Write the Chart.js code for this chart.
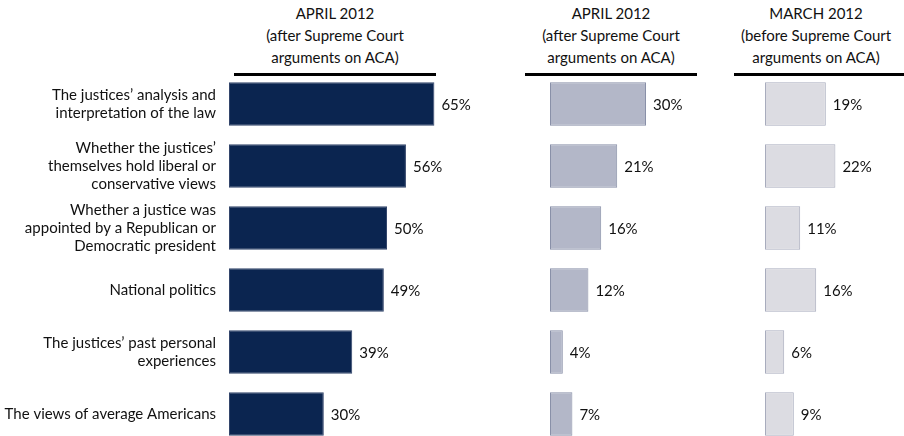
<!DOCTYPE html>
<html>
<head>
<meta charset="utf-8">
<script src="https://cdn.jsdelivr.net/npm/chart.js@4.4.0/dist/chart.umd.min.js"></script>
<style>
  html, body { margin:0; padding:0; background:#fff; overflow:hidden; }
  #wrap { position:relative; width:904px; height:436px; overflow:hidden; font-family: Lato, "Open Sans", sans-serif; }
  .hdr { position:absolute; top:2px; width:200px; text-align:center; font-size:15px; line-height:22px; color:#111; white-space:nowrap; }
  .rule { position:absolute; top:73px; height:3px; background:#000; }
  .box { position:absolute; top:0; height:445px; }
</style>
</head>
<body>
<div id="wrap">
  <div class="hdr" id="h1" style="left:235px"></div>
  <div class="hdr" id="h2" style="left:511px"></div>
  <div class="hdr" id="h3" style="left:716px"></div>
  <div class="rule" style="left:234px;width:202px"></div>
  <div class="rule" style="left:525px;width:172px"></div>
  <div class="rule" style="left:734px;width:170px"></div>
  <div class="box" style="left:0;width:476px"><canvas id="c1"></canvas></div>
  <div class="box" style="left:550px;width:180px"><canvas id="c2"></canvas></div>
  <div class="box" style="left:765px;width:139px"><canvas id="c3"></canvas></div>
</div>
<script>
const categories = [
  ["The justices\u2019 analysis and", "interpretation of the law"],
  ["Whether the justices\u2019", "themselves hold liberal or", "conservative views"],
  ["Whether a justice was", "appointed by a Republican or", "Democratic president"],
  ["National politics"],
  ["The justices\u2019 past personal", "experiences"],
  ["The views of average Americans"]
];
const april2012Total = [65, 56, 50, 49, 39, 30];
const april2012Mostly = [30, 21, 16, 12, 4, 7];
const march2012Mostly = [19, 22, 11, 16, 6, 9];
const panelTitles = [
  ["APRIL 2012", "(after Supreme Court", "arguments on ACA)"],
  ["APRIL 2012", "(after Supreme Court", "arguments on ACA)"],
  ["MARCH 2012", "(before Supreme Court", "arguments on ACA)"]
];

["h1","h2","h3"].forEach((id, i) => {
  document.getElementById(id).innerHTML = panelTitles[i].join("<br>");
});

const FONT = "Lato, 'Open Sans', sans-serif";

const valueLabels = {
  id: "valueLabels",
  afterDatasetsDraw(chart) {
    const ctx = chart.ctx;
    ctx.save();
    ctx.font = "15px " + FONT;
    ctx.fillStyle = "#111";
    ctx.textBaseline = "middle";
    ctx.textAlign = "left";
    chart.data.datasets.forEach((ds, di) => {
      chart.getDatasetMeta(di).data.forEach((bar, i) => {
        ctx.fillText(ds.data[i] + "%", bar.x + 7, bar.y + 1);
      });
    });
    ctx.restore();
  }
};

function makeChart(id, data, max, fill, border, showLabels, rightPad) {
  return new Chart(document.getElementById(id), {
    type: "bar",
    data: {
      labels: categories,
      datasets: [{
        data: data,
        backgroundColor: fill,
        borderColor: border,
        borderWidth: 1,
        borderSkipped: false,
        categoryPercentage: 0.7,
        barPercentage: 1.0
      }]
    },
    options: {
      indexAxis: "y",
      responsive: true,
      maintainAspectRatio: false,
      animation: false,
      layout: { padding: { top: 73, bottom: 0, left: 0, right: rightPad } },
      plugins: { legend: { display: false }, tooltip: { enabled: false } },
      scales: {
        x: { display: false, min: 0, max: max },
        y: {
          display: showLabels,
          grid: { display: false, drawTicks: false },
          border: { display: false },
          ticks: {
            padding: 13,
            color: "#111",
            font: { family: FONT, size: 15, lineHeight: 1.22 }
          },
          afterFit: showLabels ? (s) => { s.width = 229; s.paddingTop = 0; s.paddingBottom = 0; } : undefined
        }
      }
    },
    plugins: [valueLabels]
  });
}

makeChart("c1", april2012Total, 75, "#0b2550", "#33456b", true, 10);
makeChart("c2", april2012Mostly, 50, "#b3b7c8", "#8990a8", false, 20);
makeChart("c3", march2012Mostly, 40, "#dcdce2", "#a8acbd", false, 11);
</script>
</body>
</html>
